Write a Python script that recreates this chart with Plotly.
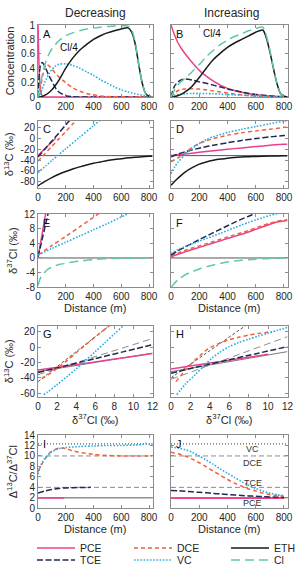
import plotly.graph_objects as go

# ---------------- data ----------------
# Panel A: concentration, decreasing scenario
A_DIST = [0, 5, 10, 20, 30, 40, 50, 60, 75, 100, 125, 150, 200, 250, 300, 350, 400,
          450, 500, 550, 600, 650, 675, 700, 725, 750, 775, 800, 825]
A_PCE = [1.0, 0.6, 0.3, 0.07, 0.015, 0.004, 0.001, 0, 0, 0, 0, 0, 0, 0, 0, 0, 0,
         0, 0, 0, 0, 0, 0, 0, 0, 0, 0, 0, 0]
A_TCE = [0, 0.2, 0.33, 0.46, 0.48, 0.46, 0.42, 0.38, 0.31, 0.22, 0.13, 0.07, 0.018, 0.004, 0.001, 0, 0,
         0, 0, 0, 0, 0, 0, 0, 0, 0, 0, 0, 0]
A_DCE = [0, 0.01, 0.05, 0.15, 0.26, 0.35, 0.41, 0.45, 0.44, 0.39, 0.33, 0.28, 0.2, 0.13, 0.08, 0.05, 0.03,
         0.015, 0.007, 0.003, 0.001, 0, 0, 0, 0, 0, 0, 0, 0]
A_VC = [0, 0.005, 0.02, 0.06, 0.11, 0.16, 0.21, 0.25, 0.31, 0.38, 0.43, 0.455, 0.46, 0.44, 0.4, 0.35, 0.3,
        0.24, 0.19, 0.14, 0.1, 0.07, 0.057, 0.045, 0.035, 0.025, 0.017, 0.01, 0.005]
A_ETH = [0, 0, 0, 0.003, 0.008, 0.015, 0.025, 0.035, 0.055, 0.1, 0.16, 0.23, 0.4, 0.54, 0.65, 0.73, 0.8,
         0.85, 0.89, 0.92, 0.945, 0.96, 0.9, 0.74, 0.46, 0.2, 0.05, 0.01, 0]
A_CL4 = [0, 0.05, 0.1, 0.2, 0.3, 0.38, 0.45, 0.51, 0.58, 0.67, 0.73, 0.78, 0.85, 0.89, 0.92, 0.945, 0.96,
         0.97, 0.978, 0.985, 0.99, 0.985, 0.93, 0.76, 0.47, 0.2, 0.05, 0.01, 0]

# Panel B: concentration, increasing scenario
B_DIST = [0, 25, 50, 75, 100, 150, 200, 250, 300, 350, 400, 450, 500, 550, 600, 650, 675, 700, 725, 750, 775, 800, 825]
B_PCE = [1.0, 0.86, 0.75, 0.67, 0.6, 0.48, 0.37, 0.29, 0.22, 0.165, 0.12, 0.09, 0.065, 0.045, 0.03, 0.02, 0.016, 0.012, 0.009, 0.006, 0.004, 0.002, 0.001]
B_TCE = [0, 0.15, 0.21, 0.24, 0.25, 0.235, 0.21, 0.19, 0.165, 0.14, 0.11, 0.09, 0.07, 0.05, 0.035, 0.025, 0.02, 0.016, 0.012, 0.009, 0.006, 0.004, 0.003]
B_DCE = [0, 0.05, 0.09, 0.105, 0.11, 0.115, 0.11, 0.1, 0.085, 0.07, 0.055, 0.042, 0.03, 0.02, 0.014, 0.009, 0.007, 0.005, 0.004, 0.003, 0.002, 0.002, 0.001]
B_VC = [0, 0.02, 0.035, 0.042, 0.045, 0.05, 0.05, 0.048, 0.045, 0.04, 0.035, 0.03, 0.025, 0.02, 0.015, 0.011, 0.009, 0.008, 0.006, 0.005, 0.004, 0.003, 0.002]
B_ETH = [0, 0.005, 0.02, 0.04, 0.07, 0.15, 0.27, 0.4, 0.52, 0.61, 0.69, 0.75, 0.8, 0.85, 0.9, 0.93, 0.82, 0.63, 0.4, 0.19, 0.05, 0.01, 0]
B_CL4 = [0, 0.1, 0.17, 0.22, 0.26, 0.35, 0.45, 0.56, 0.65, 0.73, 0.79, 0.84, 0.88, 0.92, 0.95, 0.97, 0.85, 0.65, 0.41, 0.19, 0.05, 0.01, 0]

# Panel C: d13C, decreasing
C_PCE_D = [0, 50, 100, 130]
C_PCE = [-32, -19, -7, 0]
C_TCE_D = [0, 50, 100, 150, 200, 250]
C_TCE = [-34.5, -20, -5.5, 9, 24, 39]
C_DCE_D = [0, 50, 100, 150, 200, 250, 300]
C_DCE = [-42, -28.5, -15, -1.5, 12, 25.5, 39]
C_VC_D = [0, 100, 200, 300, 400, 500]
C_VC = [-63, -41, -19.5, 1.5, 22.5, 43]
C_ETH_D = [0, 50, 100, 150, 200, 250, 300, 350, 400, 450, 500, 550, 600, 650, 700, 750, 800, 825]
C_ETH = [-87, -79, -72, -66, -61, -56.5, -52.5, -49, -46, -43.5, -41, -39, -37.5, -36, -35, -34, -33.3, -33]

# Panel D: d13C, increasing
D_PCE_D = [0, 100, 200, 300, 400, 500, 600, 700, 800, 825]
D_PCE = [-32, -29, -26, -23, -20.5, -18, -15.5, -13, -11.5, -11.2]
D_TCE_D = [0, 50, 100, 150, 200, 300, 400, 500, 600, 700, 800, 825]
D_TCE = [-34, -29, -25, -21.5, -18.5, -13, -8.5, -4.5, -1, 2, 4.5, 5]
D_DCE_D = [0, 50, 100, 150, 200, 250, 300, 400, 500, 600, 700, 800, 825]
D_DCE = [-43, -36, -27, -17, -10, -5, -1, 5, 9.5, 13, 16, 19.5, 20]
D_VC_D = [0, 25, 50, 100, 150, 200, 250, 300, 400, 500, 600, 700, 800, 825]
D_VC = [-65, -53, -44, -30, -19, -10, -3, 2.5, 10, 16, 21, 26, 31, 32]
D_ETH_D = [0, 25, 50, 100, 150, 200, 250, 300, 350, 400, 450, 500, 550, 600, 700, 800, 825]
D_ETH = [-86, -79, -73, -62, -54, -47.5, -43.5, -40.5, -38.3, -36.8, -35.5, -34.6, -33.9, -33.4, -32.7, -32.3, -32.2]
C13_SOURCE = -32

# Panel E: d37Cl, decreasing
E_PCE_D = [0, 25, 50, 60]
E_PCE = [0.2, 5.5, 11, 13.2]
E_TCE_D = [0, 25, 50, 75]
E_TCE = [0.3, 4.3, 8.4, 12.5]
E_DCE_D = [0, 100, 200, 300, 400, 450]
E_DCE = [0.8, 3.4, 5.9, 8.5, 11.1, 12.4]
E_VC_D = [0, 100, 200, 300, 400, 500, 600, 650, 700]
E_VC = [0.8, 2.6, 4.3, 6.0, 7.7, 9.4, 11.2, 12.1, 13]
E_CL_D = [0, 10, 25, 50, 75, 100, 150, 200, 250, 300, 350, 400, 450, 500, 600, 700, 800, 825]
E_CL = [-7.5, -6.2, -5.0, -3.8, -3.0, -2.5, -1.8, -1.45, -1.1, -0.85, -0.6, -0.45, -0.3, -0.2, -0.08, -0.03, 0, 0]

# Panel F: d37Cl, increasing
F_DIST = [0, 50, 100, 150, 200, 250, 300, 350, 400, 450, 500, 550, 600, 650, 700, 750, 800, 825]
F_PCE = [0.3, 1.0, 1.7, 2.3, 2.9, 3.5, 4.1, 4.7, 5.3, 5.9, 6.5, 7.1, 7.8, 8.5, 9.2, 9.8, 10.1, 10.2]
F_DCE = [0.6, 1.4, 2.1, 2.7, 3.3, 3.9, 4.5, 5.1, 5.7, 6.3, 6.9, 7.5, 8.2, 8.9, 9.5, 10.0, 10.3, 10.4]
F_TCE_D = [0, 50, 100, 150, 200, 250, 300, 350, 400, 450, 500, 550, 600, 650]
F_TCE = [0.8, 2.0, 3.0, 4.0, 5.0, 5.95, 6.9, 7.85, 8.8, 9.7, 10.6, 11.4, 12.2, 13.0]
F_VC = [1.2, 2.3, 3.1, 3.9, 4.6, 5.3, 6.0, 6.75, 7.5, 8.25, 9.0, 9.7, 10.4, 11.0, 11.6, 12.1, 12.6, 12.8]
F_CL = [-8, -5.9, -4.6, -3.7, -3.0, -2.4, -1.9, -1.5, -1.1, -0.85, -0.6, -0.45, -0.32, -0.22, -0.14, -0.07, -0.02, 0]

# Panel G: d13C vs d37Cl, decreasing
G_PCE_X = [0, 3, 6, 9, 12]
G_PCE_Y = [-30, -24.6, -19.3, -13.9, -8.5]
G_TCE_X = [0, 3, 6, 9, 12]
G_TCE_Y = [-33, -24, -15, -6, 3]
G_DCE_X = [0.4, 1, 2, 3, 4, 5, 6, 7, 8]
G_DCE_Y = [-41, -36.5, -28, -18, -7.5, 3, 13, 23, 33]
G_VC_X = [0.6, 1, 2, 3, 4, 5, 6, 7, 8, 9, 9.5]
G_VC_Y = [-62, -58.5, -49, -39, -28.5, -17.5, -6, 5.5, 17, 28.5, 34]
G_REF_SOLID_X = [0, 12]
G_REF_SOLID_Y = [-32, -8]
G_REF_LONG_X = [0, 12]
G_REF_LONG_Y = [-36, 11]
G_REF_SHORT_X = [0, 7.5]
G_REF_SHORT_Y = [-45, 28]

# Panel H: d13C vs d37Cl, increasing
H_PCE_X = [0, 2, 4, 6, 8, 10]
H_PCE_Y = [-28.5, -24.7, -20.9, -17.1, -13.3, -9.5]
H_TCE_X = [0, 3, 6, 9, 12]
H_TCE_Y = [-34, -25, -16.5, -8, 0.5]
H_DCE_X = [0.5, 1, 1.5, 2, 2.5, 3, 3.5, 4, 5, 6, 7, 8, 9, 10, 10.4]
H_DCE_Y = [-45, -37.5, -30, -23, -16.7, -11, -5.5, -1, 5, 9.5, 12.8, 15.5, 17.5, 19.3, 20]
H_VC_X = [0.6, 1.5, 2.5, 3.5, 4.2, 5, 6, 7, 8, 9, 10, 11, 12]
H_VC_Y = [-62, -48, -36, -23, -14.6, -7, 0.5, 6, 10.2, 14.2, 18, 21.8, 25.5]
H_REF_SOLID_X = [0, 12]
H_REF_SOLID_Y = [-32, -6]
H_REF_LONG_X = [0, 12]
H_REF_LONG_Y = [-42, 13.5]
H_REF_SHORT_X = [0, 7.7]
H_REF_SHORT_Y = [-40, 28]

# Panel I: D13C/D37Cl ratio, decreasing
I_PCE_D = [0, 190]
I_PCE = [1.95, 1.95]
I_TCE_D = [0, 50, 100, 150, 200, 300, 380]
I_TCE = [2.9, 3.3, 3.6, 3.8, 3.9, 3.97, 4.0]
I_DCE_D = [0, 25, 50, 75, 100, 150, 200, 250, 300, 400, 500, 600, 700, 800, 825]
I_DCE = [7, 8.3, 9.4, 10.3, 10.9, 11.5, 11.4, 11.0, 10.7, 10.3, 10.1, 10.0, 10.0, 10.0, 10.0]
I_VC_D = [0, 25, 50, 100, 150, 200, 300, 400, 500, 600, 700, 750, 775, 800, 825]
I_VC = [6.5, 8.5, 9.6, 10.8, 11.4, 11.6, 11.8, 11.9, 12.0, 12.0, 12.1, 12.2, 12.4, 12.2, 12.3]

# Panel J: ratio, increasing
J_DIST = [0, 50, 100, 150, 200, 250, 300, 350, 400, 450, 500, 550, 600, 650, 700, 750, 800]
J_PCE = [1.9] * 17
J_TCE = [3.4, 3.35, 3.25, 3.15, 3.05, 2.95, 2.85, 2.75, 2.65, 2.55, 2.45, 2.37, 2.3, 2.23, 2.17, 2.12, 2.07]
J_DCE = [10.7, 10.4, 10.0, 9.4, 8.7, 7.9, 7.1, 6.3, 5.5, 4.8, 4.2, 3.7, 3.3, 2.9, 2.6, 2.4, 2.3]
J_VC = [11.7, 11.5, 11.2, 10.7, 10.0, 9.2, 8.4, 7.5, 6.7, 5.9, 5.1, 4.4, 3.8, 3.3, 2.9, 2.6, 2.4]

# compound-specific ratio references (PCE, TCE, DCE, VC)
REF_NAMES = ["PCE", "TCE", "DCE", "VC"]
REF_RATIOS = [2, 4, 10, 12.3]
REF_LABEL_Y = [1.0, 4.9, 8.7, 11.3]
REF_LABEL_X = 579

DIST_TICKS = [0, 200, 400, 600, 800]
CL_TICKS = [0, 2, 4, 6, 8, 10, 12]

# ---------------- styling ----------------
W, H = 296, 566
FONT = "Liberation Sans, Arial, Helvetica, sans-serif"
TXT = "#262626"
FRAME = "#8c8c8c"

STY = {
    "PCE": dict(color="#E8428C", dash="solid", width=1.5),
    "TCE": dict(color="#1E2A52", dash="6px,2.5px", width=1.5),
    "DCE": dict(color="#F0603C", dash="4px,3px", width=1.5),
    "VC": dict(color="#2BAEE3", dash="1.6px,1.6px", width=1.6),
    "ETH": dict(color="#1A1A1A", dash="solid", width=1.5),
    "Cl": dict(color="#5FC9A6", dash="9px,5px", width=1.5),
}


def dom_x(l, r):
    return [l / W, r / W]


def dom_y(t, b):
    return [1 - b / H, 1 - t / H]


COLS = {1: dom_x(38, 152.5), 2: dom_x(171, 287.5)}
ROWS = {1: dom_y(25, 97), 2: dom_y(120.5, 188), 3: dom_y(214, 287.3),
        4: dom_y(325.5, 397), 5: dom_y(435, 508.3)}


def tt(vals):
    out = []
    for v in vals:
        s = f"{abs(v):g}"
        out.append("-" + s if v < 0 else s)
    return out


fig = go.Figure()

# panel specs: letter, row, col, xrange, xticks, yrange, yticks, xtitle, ytitle
PANELS = [
    ("A", 1, 1, [0, 825], DIST_TICKS, [0, 1], [0, 0.2, 0.4, 0.6, 0.8, 1], None, "Concentration"),
    ("B", 1, 2, [0, 825], DIST_TICKS, [0, 1], [0, 0.2, 0.4, 0.6, 0.8, 1], None, None),
    ("C", 2, 1, [0, 825], DIST_TICKS, [-91, 32], [-80, -60, -40, -20, 0, 20], None, "δ<sup>13</sup>C (‰)"),
    ("D", 2, 2, [0, 825], DIST_TICKS, [-91, 32], [-80, -60, -40, -20, 0, 20], None, None),
    ("E", 3, 1, [0, 825], DIST_TICKS, [-8, 12], [-8, -4, 0, 4, 8, 12], "Distance (m)", "δ<sup>37</sup>Cl (‰)"),
    ("F", 3, 2, [0, 825], DIST_TICKS, [-8, 12], [-8, -4, 0, 4, 8, 12], "Distance (m)", None),
    ("G", 4, 1, [0, 12], CL_TICKS, [-65, 28], [-60, -40, -20, 0, 20], "δ<sup>37</sup>Cl (‰)", "δ<sup>13</sup>C (‰)"),
    ("H", 4, 2, [0, 12], CL_TICKS, [-65, 28], [-60, -40, -20, 0, 20], "δ<sup>37</sup>Cl (‰)", None),
    ("I", 5, 1, [0, 825], DIST_TICKS, [0, 14], [0, 2, 4, 6, 8, 10, 12, 14], "Distance (m)", "Δ<sup>13</sup>C/Δ<sup>37</sup>Cl"),
    ("J", 5, 2, [0, 825], DIST_TICKS, [0, 14], [0, 2, 4, 6, 8, 10, 12, 14], "Distance (m)", None),
]

layout = {}
annotations = []
shapes = []
for i, (letter, row, col, xr, xt, yr, yt, xtitle, ytitle) in enumerate(PANELS, start=1):
    sx = "" if i == 1 else str(i)
    common = dict(showline=True, linecolor=FRAME, linewidth=1, mirror="allticks",
                  ticks="inside", ticklen=3, tickcolor=FRAME, tickwidth=1,
                  showgrid=False, zeroline=False,
                  tickfont=dict(size=10, color=TXT, family=FONT))
    xa = dict(common, domain=COLS[col], range=xr, anchor="y" + sx, tickvals=xt, ticktext=tt(xt))
    if xtitle:
        xa["title"] = dict(text=xtitle, font=dict(size=11, color=TXT, family=FONT), standoff=2)
    ya = dict(common, domain=ROWS[row], range=yr, anchor="x" + sx, tickvals=yt, ticktext=tt(yt),
              showticklabels=(col == 1))
    if ytitle:
        ya["title"] = dict(text=ytitle, font=dict(size=11, color=TXT, family=FONT), standoff=4)
    layout["xaxis" + sx] = xa
    layout["yaxis" + sx] = ya
    annotations.append(dict(text=letter, xref=f"x{sx} domain", yref=f"y{sx} domain",
                            x=0.03, y=0.99, xanchor="left", yanchor="top", showarrow=False,
                            font=dict(size=11, color="#111", family=FONT)))


def add(name, x, y, i, spline=True, legend=None):
    sx = "" if i == 1 else str(i)
    s = STY[name]
    fig.add_trace(go.Scatter(
        x=x, y=y, mode="lines", name=name, xaxis="x" + sx, yaxis="y" + sx,
        line=dict(color=s["color"], dash=s["dash"], width=s["width"],
                  shape="spline" if spline else "linear", smoothing=0.8),
        showlegend=legend is not None, legend=legend if legend else "legend",
        hoverinfo="skip"))


def add_ref(x, y, i, color, dash, width):
    sx = "" if i == 1 else str(i)
    fig.add_trace(go.Scatter(x=x, y=y, mode="lines", xaxis="x" + sx, yaxis="y" + sx,
                             line=dict(color=color, dash=dash, width=width),
                             showlegend=False, hoverinfo="skip"))


# A
add("PCE", A_DIST, A_PCE, 1, legend="legend")
add("TCE", A_DIST, A_TCE, 1, legend="legend2")
add("DCE", A_DIST, A_DCE, 1, legend="legend")
add("VC", A_DIST, A_VC, 1, legend="legend2")
add("ETH", A_DIST, A_ETH, 1, legend="legend")
add("Cl", A_DIST, A_CL4, 1, legend="legend2")
# B
add("PCE", B_DIST, B_PCE, 2)
add("TCE", B_DIST, B_TCE, 2)
add("DCE", B_DIST, B_DCE, 2)
add("VC", B_DIST, B_VC, 2)
add("ETH", B_DIST, B_ETH, 2)
add("Cl", B_DIST, B_CL4, 2)
# C
add("PCE", C_PCE_D, C_PCE, 3)
add("TCE", C_TCE_D, C_TCE, 3)
add("DCE", C_DCE_D, C_DCE, 3)
add("VC", C_VC_D, C_VC, 3)
add("ETH", C_ETH_D, C_ETH, 3)
# D
add("PCE", D_PCE_D, D_PCE, 4)
add("TCE", D_TCE_D, D_TCE, 4)
add("DCE", D_DCE_D, D_DCE, 4)
add("VC", D_VC_D, D_VC, 4)
add("ETH", D_ETH_D, D_ETH, 4)
# E
add("PCE", E_PCE_D, E_PCE, 5)
add("TCE", E_TCE_D, E_TCE, 5)
add("DCE", E_DCE_D, E_DCE, 5)
add("VC", E_VC_D, E_VC, 5)
add("Cl", E_CL_D, E_CL, 5)
# F
add("PCE", F_DIST, F_PCE, 6)
add("DCE", F_DIST, F_DCE, 6)
add("TCE", F_TCE_D, F_TCE, 6)
add("VC", F_DIST, F_VC, 6)
add("Cl", F_DIST, F_CL, 6)
# G
add_ref(G_REF_SOLID_X, G_REF_SOLID_Y, 7, "#555555", "solid", 0.8)
add_ref(G_REF_LONG_X, G_REF_LONG_Y, 7, "#8c8c8c", "7px,4px", 1)
add_ref(G_REF_SHORT_X, G_REF_SHORT_Y, 7, "#444444", "3px,2px", 0.9)
add("PCE", G_PCE_X, G_PCE_Y, 7)
add("TCE", G_TCE_X, G_TCE_Y, 7)
add("DCE", G_DCE_X, G_DCE_Y, 7)
add("VC", G_VC_X, G_VC_Y, 7)
# H
add_ref(H_REF_SOLID_X, H_REF_SOLID_Y, 8, "#555555", "solid", 0.8)
add_ref(H_REF_LONG_X, H_REF_LONG_Y, 8, "#8c8c8c", "7px,4px", 1)
add_ref(H_REF_SHORT_X, H_REF_SHORT_Y, 8, "#444444", "3px,2px", 0.9)
add("PCE", H_PCE_X, H_PCE_Y, 8)
add("TCE", H_TCE_X, H_TCE_Y, 8)
add("DCE", H_DCE_X, H_DCE_Y, 8)
add("VC", H_VC_X, H_VC_Y, 8)
# I
add("PCE", I_PCE_D, I_PCE, 9, spline=False)
add("TCE", I_TCE_D, I_TCE, 9)
add("DCE", I_DCE_D, I_DCE, 9)
add("VC", I_VC_D, I_VC, 9)
# J
add("PCE", J_DIST, J_PCE, 10, spline=False)
add("TCE", J_DIST, J_TCE, 10)
add("DCE", J_DIST, J_DCE, 10)
add("VC", J_DIST, J_VC, 10)

# horizontal reference lines
for i in (3, 4):
    sx = str(i)
    shapes.append(dict(type="line", xref=f"x{sx} domain", yref="y" + sx, x0=0, x1=1,
                       y0=C13_SOURCE, y1=C13_SOURCE, layer="below",
                       line=dict(color="#555555", width=1)))
for i in (5, 6):
    sx = str(i)
    shapes.append(dict(type="line", xref=f"x{sx} domain", yref="y" + sx, x0=0, x1=1,
                       y0=0, y1=0, layer="below", line=dict(color="#555555", width=1)))
REF_STYLE = {"PCE": ("#444444", "solid", 0.9), "TCE": ("#8c8c8c", "5px,3px", 1),
             "DCE": ("#8c8c8c", "5px,3px", 1), "VC": ("#333333", "1px,2px", 1)}
for i in (9, 10):
    sx = str(i)
    for nm, r in zip(REF_NAMES, REF_RATIOS):
        c, d, w = REF_STYLE[nm]
        shapes.append(dict(type="line", xref=f"x{sx} domain", yref="y" + sx, x0=0, x1=1,
                           y0=r, y1=r, layer="below", line=dict(color=c, dash=d, width=w)))
for nm, ly in zip(REF_NAMES, REF_LABEL_Y):
    annotations.append(dict(text=nm, x=REF_LABEL_X, y=ly, xref="x10", yref="y10",
                            showarrow=False, font=dict(size=9, color="#333", family=FONT)))

# Cl/4 labels
annotations.append(dict(text="Cl/4", x=220, y=0.69, xref="x", yref="y", showarrow=False,
                        font=dict(size=10, color="#111", family=FONT)))
annotations.append(dict(text="Cl/4", x=290, y=0.88, xref="x2", yref="y2", showarrow=False,
                        font=dict(size=10, color="#111", family=FONT)))
# column titles
annotations.append(dict(text="Decreasing", x=95 / W, y=1 - 12.5 / H, xref="paper", yref="paper",
                        xanchor="center", yanchor="middle",
                        showarrow=False, font=dict(size=12, color=TXT, family=FONT)))
annotations.append(dict(text="Increasing", x=231 / W, y=1 - 12.5 / H, xref="paper", yref="paper",
                        xanchor="center", yanchor="middle",
                        showarrow=False, font=dict(size=12, color=TXT, family=FONT)))

leg = dict(orientation="h", xanchor="left", yanchor="middle", x=32 / W,
           font=dict(size=10.5, color=TXT, family=FONT), itemwidth=38,
           entrywidth=44, entrywidthmode="pixels",
           bgcolor="rgba(0,0,0,0)", borderwidth=0, traceorder="normal")

fig.update_layout(
    width=W, height=H, margin=dict(l=0, r=0, t=0, b=0, autoexpand=False),
    paper_bgcolor="white", plot_bgcolor="white",
    font=dict(family=FONT, color=TXT),
    annotations=annotations, shapes=shapes,
    legend=dict(leg, y=1 - 548 / H),
    legend2=dict(leg, y=1 - 560 / H),
    **layout,
)

fig.write_html("out.html")
